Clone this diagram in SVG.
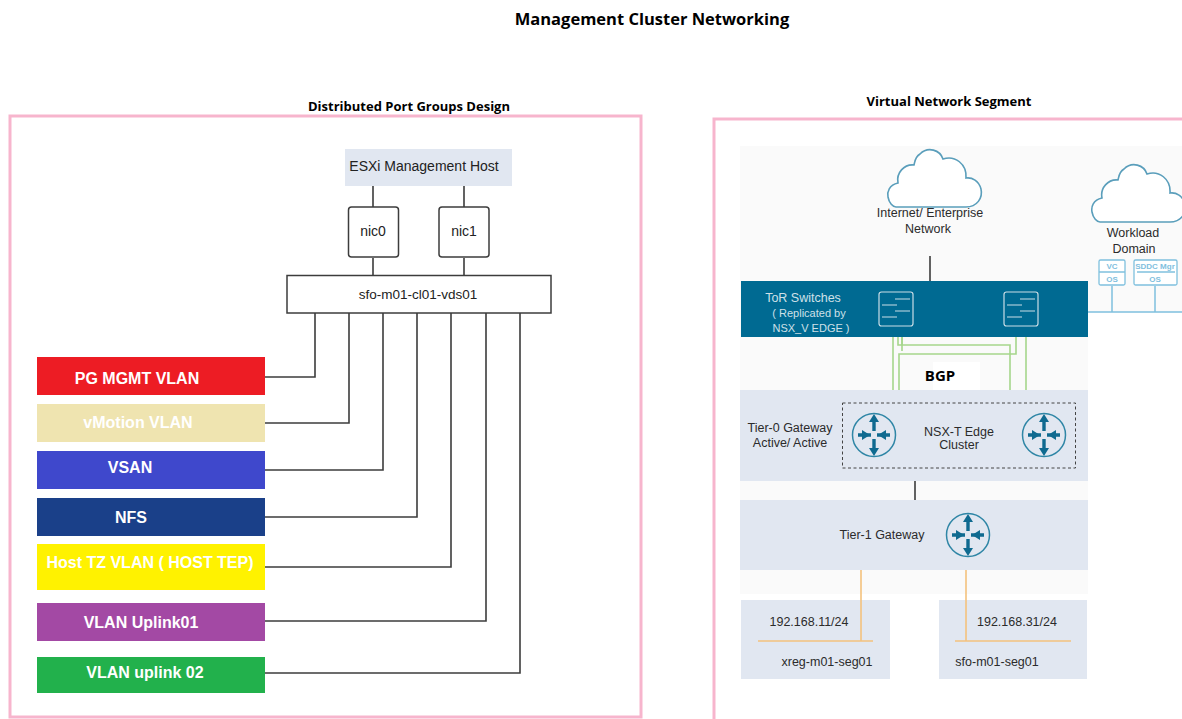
<svg xmlns="http://www.w3.org/2000/svg" width="1182" height="719" viewBox="0 0 1182 719">
<style>
text{font-family:"Liberation Sans",Arial,sans-serif;fill:#222;text-anchor:middle}
.ttl{font-family:"Open Sans","Noto Sans",sans-serif;font-weight:700;fill:#000}
.pg{font-size:16px;font-weight:700;fill:#fff}
.lbl{font-size:12.5px;fill:#2b2b2b}
.frame{fill:#fff;stroke:#f7b5cd;stroke-width:3}
.band{fill:#e1e7f1}
.pale{fill:#fafafa}
.conn{fill:none;stroke:#3c3c3c;stroke-width:1.6}
.gr{fill:none;stroke:#a6d68c;stroke-width:1.6}
.or{fill:none;stroke:#f4c27e;stroke-width:1.6}
.bl{fill:none;stroke:#7fc0de;stroke-width:1.5}
.cloud{fill:#fff;stroke:#5a9ebb;stroke-width:1.6}
.sw{fill:none;stroke:#c9dde6;stroke-width:1.2}
.rc{fill:none;stroke:#2f86a6;stroke-width:1.5}
.ra{fill:none;stroke:#0f6a90;stroke-width:3.4}
.rh{fill:#0f6a90}
.small{font-size:8px;fill:#7fc0de;font-weight:700}
</style>
<defs>
<g id="router">
<circle class="rc" r="21.5"/>
<path class="ra" d="M0,-4V-15M0,4V15M-3,0H-16M3,0H16"/>
<path class="rh" d="M0,-21L-5,-13H5ZM0,21L-5,13H5ZM-4,0L-12,-5V5ZM4,0L12,-5V5Z"/>
</g>
<g id="switch">
<rect class="sw" x="-17" y="-17" width="34" height="34" rx="2.5"/>
<path class="sw" d="M-1,-10H14M-14,-4H1M-1,2H14M-14,8H1"/>
</g>
<path id="cl" d="M-35,31H35C46,31 52,22 50,13C48,5 41,1 35,2C36,-12 24,-21 12,-17C9,-26 -3,-30 -11,-22C-16,-19 -16,-15 -17,-11C-27,-12 -35,-3 -33,7C-42,9 -44,16 -43,21C-42,27 -38,31 -35,31Z"/>
</defs>

<text class="ttl" x="652" y="25" font-size="16.5">Management Cluster Networking</text>
<text class="ttl" x="409" y="111" font-size="13">Distributed Port Groups Design</text>
<text class="ttl" x="949" y="106" font-size="13">Virtual Network Segment</text>

<rect id="frame-left" class="frame" x="10" y="116" width="631" height="601"/>
<path id="frame-right" class="frame" d="M1182,119H714V719"/>

<g id="connectors-left">
<path class="conn" d="M373,185V207M464,185V207M373,258V275M464,258V275"/>
<path class="conn" d="M315,313V377H265M349,313V423H265M383,313V470H265M417,313V517H265M451,313V567H265M486,313V621H265M520,313V673H265"/>
</g>

<g id="esxi-host"><rect class="band" x="345" y="149" width="167" height="37"/><text x="424" y="171" font-size="14">ESXi Management Host</text></g>
<g id="nic0"><rect x="348.500" y="207" width="50" height="50" rx="3" fill="#fff" stroke="#3c3c3c" stroke-width="1.500"/><text x="373" y="236" font-size="14">nic0</text></g>
<g id="nic1"><rect x="439" y="207" width="50" height="50" rx="3" fill="#fff" stroke="#3c3c3c" stroke-width="1.500"/><text x="464" y="236" font-size="14">nic1</text></g>
<g id="vds"><rect x="287" y="275.500" width="264" height="37.500" fill="#fff" stroke="#3c3c3c" stroke-width="1.500"/><text x="418" y="299" font-size="13.500">sfo-m01-cl01-vds01</text></g>

<g id="pg-mgmt"><rect x="37" y="357" width="228" height="38" fill="#ed1c24"/><text class="pg" x="137" y="384">PG MGMT VLAN</text></g>
<g id="pg-vmotion"><rect x="37" y="404" width="228" height="38" fill="#efe4b0"/><text class="pg" x="138" y="428">vMotion VLAN</text></g>
<g id="pg-vsan"><rect x="37" y="451" width="228" height="38" fill="#3f48cc"/><text class="pg" x="130" y="473">VSAN</text></g>
<g id="pg-nfs"><rect x="37" y="498" width="228" height="38" fill="#1a4089"/><text class="pg" x="131" y="523">NFS</text></g>
<g id="pg-host-tz"><rect x="37" y="544" width="228" height="46" fill="#fff200"/><text class="pg" x="150" y="568">Host TZ VLAN ( HOST TEP)</text></g>
<g id="pg-uplink01"><rect x="37" y="603" width="228" height="38" fill="#a349a4"/><text class="pg" x="141" y="628">VLAN Uplink01</text></g>
<g id="pg-uplink02"><rect x="37" y="657" width="228" height="36" fill="#22b14c"/><text class="pg" x="145" y="678">VLAN uplink 02</text></g>

<g id="background-right">
<rect class="pale" x="740" y="146" width="348" height="424"/>
<rect class="pale" x="1088" y="146" width="94" height="166"/>
<rect class="pale" x="740" y="570" width="348" height="24"/>
</g>

<g id="connectors-right">
<path class="conn" d="M930,256V281" stroke-width="1.200"/>
<path class="gr" d="M893,336V390M898,336V345H1010V390M902,336V351" />
<path class="gr" d="M899,390V354H1016V336M1026,336V390M902,336V345"/>
<path class="conn" d="M915,481V500"/>
<path class="or" d="M861,570V641M966,570V641"/>
<path class="bl" d="M1112,286V312M1155,286V312M1088,312H1182"/>
</g>

<g id="internet"><use href="#cl" class="cloud" x="931" y="176"/><text class="lbl" x="930" y="217">Internet/ Enterprise</text><text class="lbl" x="928" y="233">Network</text></g>
<g id="workload"><use href="#cl" class="cloud" x="1135" y="191"/><text class="lbl" x="1133" y="237">Workload</text><text class="lbl" x="1134" y="253">Domain</text></g>
<g id="vc"><rect x="1099" y="260" width="26" height="25" rx="1.500" fill="#fff" stroke="#7fc0de" stroke-width="1.300"/><path class="bl" d="M1099,272H1125"/><text class="small" x="1112" y="269">VC</text><text class="small" x="1112" y="282">OS</text></g>
<g id="sddc"><rect x="1134" y="260" width="43" height="25" rx="1.500" fill="#fff" stroke="#7fc0de" stroke-width="1.300"/><path class="bl" d="M1137,272H1175"/><text class="small" x="1155" y="269">SDDC Mgr</text><text class="small" x="1155" y="282">OS</text></g>

<g id="tor"><rect x="741" y="281" width="347" height="56" fill="#006a92"/>
<text x="803" y="302" font-size="12.500" style="fill:#cfe0e8">ToR Switches</text>
<text x="809" y="317" font-size="11" style="fill:#cfe0e8">(  Replicated by</text>
<text x="811" y="332" font-size="11" style="fill:#cfe0e8">NSX_V EDGE   )</text>
<use href="#switch" x="896" y="309"/><use href="#switch" x="1021" y="309"/></g>

<g id="bgp"><rect x="933" y="362" width="47" height="28" fill="#fff"/><text class="ttl" x="940" y="381" font-size="15">BGP</text></g>

<g id="tier0"><rect class="band" x="740" y="390" width="348" height="91"/>
<text class="lbl" x="790" y="432">Tier-0 Gateway</text><text class="lbl" x="790" y="447">Active/ Active</text>
<rect x="842.500" y="403" width="233" height="65" fill="none" stroke="#444" stroke-width="1" stroke-dasharray="3 2.500"/>
<use href="#router" x="874" y="435"/><use href="#router" x="1044" y="435"/>
<text class="lbl" x="959" y="436">NSX-T Edge</text><text class="lbl" x="959" y="449">Cluster</text></g>

<g id="tier1"><rect class="band" x="740" y="500" width="348" height="70"/>
<text class="lbl" x="882" y="539">Tier-1 Gateway</text><use href="#router" x="968" y="535"/></g>

<g id="seg-xreg"><rect class="band" x="741" y="600" width="149" height="79"/>
<path class="or" d="M861,600V641M758,641H873"/>
<text class="lbl" x="809" y="626">192.168.11/24</text><text class="lbl" x="827" y="666">xreg-m01-seg01</text></g>
<g id="seg-sfo"><rect class="band" x="939" y="600" width="148" height="79"/>
<path class="or" d="M966,600V641M955,641H1071"/>
<text class="lbl" x="1017" y="626">192.168.31/24</text><text class="lbl" x="997" y="666">sfo-m01-seg01</text></g>
</svg>
